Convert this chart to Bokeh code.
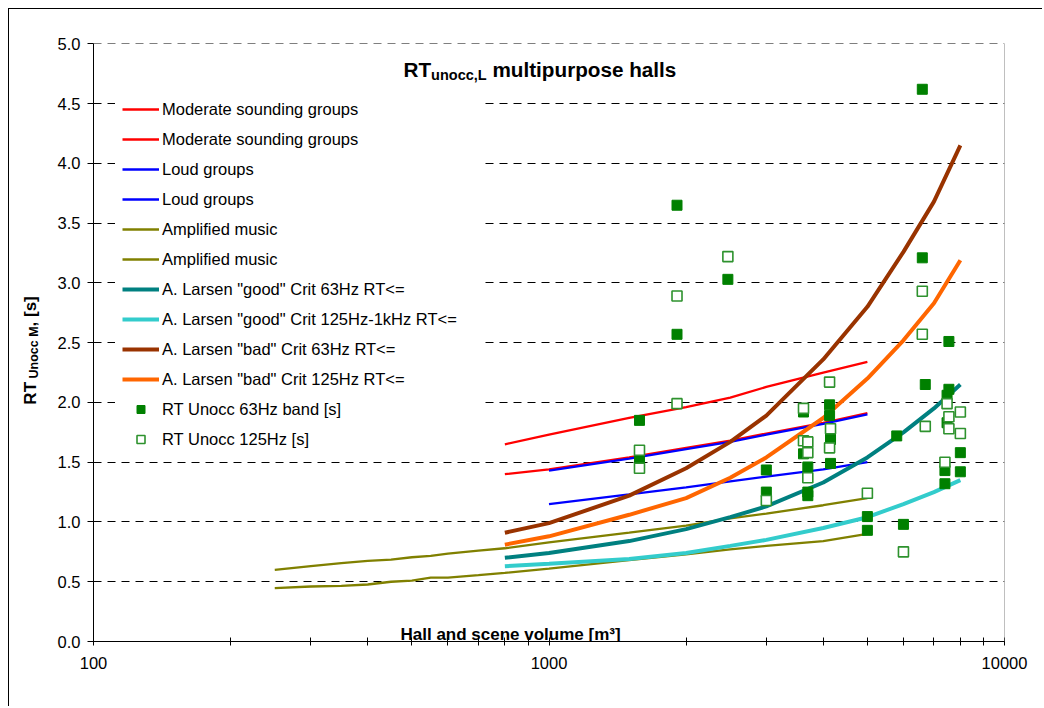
import math
from bokeh.plotting import figure
from bokeh.models import (Range1d, FixedTicker, PrintfTickFormatter, Legend,
                          LegendItem, Label, Span)
from bokeh.embed import file_html
from bokeh.resources import INLINE

# ---------------- data ----------------
x_ticks = [100, 1000, 10000]
x_minor = [200, 300, 400, 500, 600, 700, 800, 900,
           2000, 3000, 4000, 5000, 6000, 7000, 8000, 9000]
y_ticks = [0.0, 0.5, 1.0, 1.5, 2.0, 2.5, 3.0, 3.5, 4.0, 4.5, 5.0]

vol_mod = [800, 1000, 1500, 2000, 2500, 3000, 4000, 5000]
mod_upper = [1.65, 1.73, 1.87, 1.96, 2.04, 2.13, 2.25, 2.34]
mod_lower = [1.40, 1.44, 1.54, 1.62, 1.68, 1.74, 1.83, 1.91]

vol_loud = [1000, 1500, 2000, 2500, 3000, 4000, 5000]
loud_upper = [1.43, 1.53, 1.61, 1.67, 1.73, 1.82, 1.90]
loud_lower = [1.15, 1.23, 1.29, 1.34, 1.38, 1.44, 1.50]

vol_amp = [250, 300, 350, 400, 450, 500, 550, 600, 700, 800,
           1000, 1500, 2000, 2500, 3000, 4000, 5000]
amp_upper = [0.60, 0.63, 0.655, 0.675, 0.685, 0.705, 0.716, 0.736, 0.76, 0.78,
             0.83, 0.91, 0.97, 1.03, 1.07, 1.14, 1.20]
amp_lower = [0.446, 0.46, 0.466, 0.477, 0.50, 0.51, 0.535, 0.535, 0.555, 0.574,
             0.61, 0.68, 0.73, 0.77, 0.80, 0.84, 0.90]

vol_lar = [800, 1000, 1500, 2000, 2500, 3000, 4000, 5000, 6000, 7000, 8000]
good63 = [0.70, 0.74, 0.84, 0.94, 1.04, 1.13, 1.33, 1.54, 1.75, 1.95, 2.15]
good125 = [0.63, 0.65, 0.69, 0.74, 0.80, 0.85, 0.95, 1.04, 1.15, 1.25, 1.35]
bad63 = [0.91, 0.99, 1.22, 1.45, 1.67, 1.89, 2.36, 2.80, 3.26, 3.68, 4.15]
bad125 = [0.81, 0.88, 1.06, 1.20, 1.37, 1.54, 1.87, 2.20, 2.52, 2.83, 3.19]

rt63_vol = [1580, 1580, 1910, 1910, 2470, 3000, 3000,
            3620, 3620, 3700, 3700, 3700,
            4130, 4130, 4150, 4150, 4150,
            5000, 5000, 5800, 6000, 6600, 6600, 6700,
            7550, 7550, 7480, 7480, 7400, 7400, 8000, 8000]
rt63_val = [1.85, 1.53, 3.65, 2.57, 3.03, 1.435, 1.25,
            1.92, 1.57, 1.46, 1.25, 1.22,
            1.98, 1.89, 1.72, 1.69, 1.49,
            1.045, 0.93, 1.72, 0.98, 4.62, 3.21, 2.15,
            2.51, 2.11, 2.06, 1.83, 1.43, 1.32, 1.58, 1.42]

rt125_vol = [1580, 1580, 1910, 1910, 2470, 3000,
             3620, 3620, 3700, 3700, 3700,
             4130, 4150, 4130, 5000, 6000,
             6600, 6600, 6700, 7480, 7550, 7550, 7400, 8000, 8000]
rt125_val = [1.60, 1.45, 2.89, 1.99, 3.22, 1.18,
             1.95, 1.68, 1.67, 1.58, 1.37,
             2.17, 1.78, 1.62, 1.24, 0.75,
             2.93, 2.57, 1.80, 1.99, 1.88, 1.78, 1.50, 1.92, 1.74]

labels = ["Moderate sounding groups", "Moderate sounding groups",
          "Loud groups", "Loud groups", "Amplified music", "Amplified music",
          'A. Larsen "good" Crit 63Hz RT<=', 'A. Larsen "good" Crit 125Hz-1kHz RT<=',
          'A. Larsen "bad" Crit 63Hz RT<=', 'A. Larsen "bad" Crit 125Hz RT<=',
          "RT Unocc 63Hz band [s]", "RT Unocc 125Hz [s]"]

# ---------------- helpers ----------------
BOLD_W = {' ': .278, 'R': .722, 'T': .611, 'u': .611, 'n': .611, 'o': .611, 'c': .556,
          ',': .278, 'L': .611, 'm': .889, 'l': .278, 't': .333, 'i': .278, 'p': .611,
          'r': .389, 's': .556, 'e': .556, 'h': .611, 'a': .556, 'U': .722, 'M': .833,
          '[': .333, ']': .333}


def wb(s, size):
    return sum(BOLD_W.get(ch, .556) for ch in s) * size


FONT = "Liberation Sans"

# frame geometry in page pixels (used only to place text outside the frame)
FR_L, FR_B, DEC_PX, UNIT_PX = 94, 641, 455.0, 119.6


def px_to_data(px):
    return 10 ** (2 + (px - FR_L) / DEC_PX)


def py_to_data(py):
    return (FR_B - py) / UNIT_PX


p = figure(width=1040, height=698, x_axis_type="log", output_backend="svg",
           toolbar_location=None, x_range=Range1d(100, 10000), y_range=Range1d(0, 5.003),
           min_border_left=86, min_border_right=38, min_border_top=35, min_border_bottom=65)
# left side panel (axis + rotated title) is 92px wide -> frame starts at page x=94
p.margin = (8, 0, 0, 2)
p.border_fill_color = None
p.background_fill_color = "white"
p.outline_line_color = None
p.styles = {"box-shadow": "inset 6px 0 0 0 #ffffff, inset 7px 1px 0 0 #000000",
            "background-color": "white"}

# axes
p.xaxis.ticker = FixedTicker(ticks=x_ticks, minor_ticks=x_minor)
p.xaxis.formatter = PrintfTickFormatter(format="%d")
p.yaxis.ticker = FixedTicker(ticks=y_ticks)
p.yaxis.formatter = PrintfTickFormatter(format="%.1f")
for ax in (p.xaxis, p.yaxis):
    ax.axis_line_color = "black"
    ax.major_tick_line_color = "black"
    ax.minor_tick_line_color = "black"
    ax.major_label_text_font = FONT
    ax.major_label_text_font_size = "16.5px"
    ax.major_label_text_color = "black"
p.xaxis.major_tick_in = 4
p.xaxis.major_tick_out = 4
p.xaxis.minor_tick_in = 4
p.xaxis.minor_tick_out = 4
p.xaxis.major_label_standoff = 11
p.yaxis.major_tick_in = 0
p.yaxis.major_tick_out = 6
p.yaxis.minor_tick_in = 0
p.yaxis.minor_tick_out = 0
p.yaxis.major_label_standoff = 7

p.xgrid.visible = False
p.ygrid.ticker = FixedTicker(ticks=y_ticks)
p.ygrid.grid_line_color = "black"
p.ygrid.grid_line_dash = "8 6"
p.ygrid.grid_line_width = 1

p.add_layout(Span(location=10000, dimension="height", line_color="#808080", line_width=1))

# lines
thin = 2.3
thick = 4
rs = []
rs.append(p.line(vol_mod, mod_upper, line_color="#FF0000", line_width=thin))
rs.append(p.line(vol_mod, mod_lower, line_color="#FF0000", line_width=thin))
r_loud_up = p.line(vol_loud, loud_upper, line_color="#0000FF", line_width=thin)
r_loud_lo = p.line(vol_loud, loud_lower, line_color="#0000FF", line_width=thin)
rs += [r_loud_lo, r_loud_up]
rs.append(p.line(vol_amp, amp_upper, line_color="#808000", line_width=thin))
rs.append(p.line(vol_amp, amp_lower, line_color="#808000", line_width=thin))
rs.append(p.line(vol_lar, good63, line_color="#008080", line_width=thick))
rs.append(p.line(vol_lar, good125, line_color="#33CCCC", line_width=thick))
rs.append(p.line(vol_lar, bad63, line_color="#993300", line_width=thick))
rs.append(p.line(vol_lar, bad125, line_color="#FF6600", line_width=thick))
rs.append(p.scatter(rt63_vol, rt63_val, marker="square", size=10,
                    fill_color="#008000", line_color="#008000"))
rs.append(p.scatter(rt125_vol, rt125_val, marker="square", size=10,
                    fill_color="white", line_color="#2E922E", line_width=1.6))

legend = Legend(items=[LegendItem(label=lab, renderers=[r]) for lab, r in zip(labels, rs)],
                location=(22, 185), orientation="vertical", padding=7, spacing=10,
                glyph_height=20, glyph_width=37, label_height=20, label_width=313,
                label_standoff=3, margin=0, border_line_alpha=0,
                background_fill_color="white", background_fill_alpha=1,
                label_text_font=FONT, label_text_font_size="16.5px",
                label_text_color="black")
p.add_layout(legend)

# title with subscript
TS, SS = 20.7, 14.5
tx, ty = 310, 572
p.add_layout(Label(x=tx, y=ty, x_units="screen", y_units="screen", text="RT",
                   text_font=FONT, text_font_size=f"{TS}px", text_font_style="bold",
                   text_baseline="alphabetic", text_color="black"))
tx2 = tx + wb("RT", TS)
p.add_layout(Label(x=tx2, y=ty - 5, x_units="screen", y_units="screen", text="unocc,L",
                   text_font=FONT, text_font_size=f"{SS}px", text_font_style="bold",
                   text_baseline="alphabetic", text_color="black"))
tx3 = tx2 + wb("unocc,L", SS) + wb(" ", TS)
p.add_layout(Label(x=tx3, y=ty, x_units="screen", y_units="screen",
                   text="multipurpose halls",
                   text_font=FONT, text_font_size=f"{TS}px", text_font_style="bold",
                   text_baseline="alphabetic", text_color="black"))

# x axis title (inside frame)
p.add_layout(Label(x=307, y=7, x_units="screen", y_units="screen",
                   text="Hall and scene volume [m³]",
                   text_font=FONT, text_font_size="17px", text_font_style="bold",
                   text_baseline="alphabetic", text_color="black"))

# y axis title, rotated, with subscript (placed in the left side panel so it is not clipped)
YS, YSS = 17, 12.5
ang = math.pi / 2
py0 = 404          # page y where "RT" starts (text reads upward)
pxm = 31           # page x of the main text centre line
py1 = py0 - wb("RT", YS) - wb(" ", YSS)
py2 = py1 - wb("Unocc M", YSS)
for txt, px, py, fs in [("RT", pxm, py0, YS), ("Unocc M", pxm + 4, py1, YSS),
                        (", [s]", pxm, py2, YS)]:
    p.add_layout(Label(x=px_to_data(px), y=py_to_data(py), text=txt, angle=ang,
                       text_font=FONT, text_font_size=f"{fs}px", text_font_style="bold",
                       text_baseline="middle", text_align="left", text_color="black"),
                 "left")

open("out.html", "w").write(file_html(p, INLINE))
